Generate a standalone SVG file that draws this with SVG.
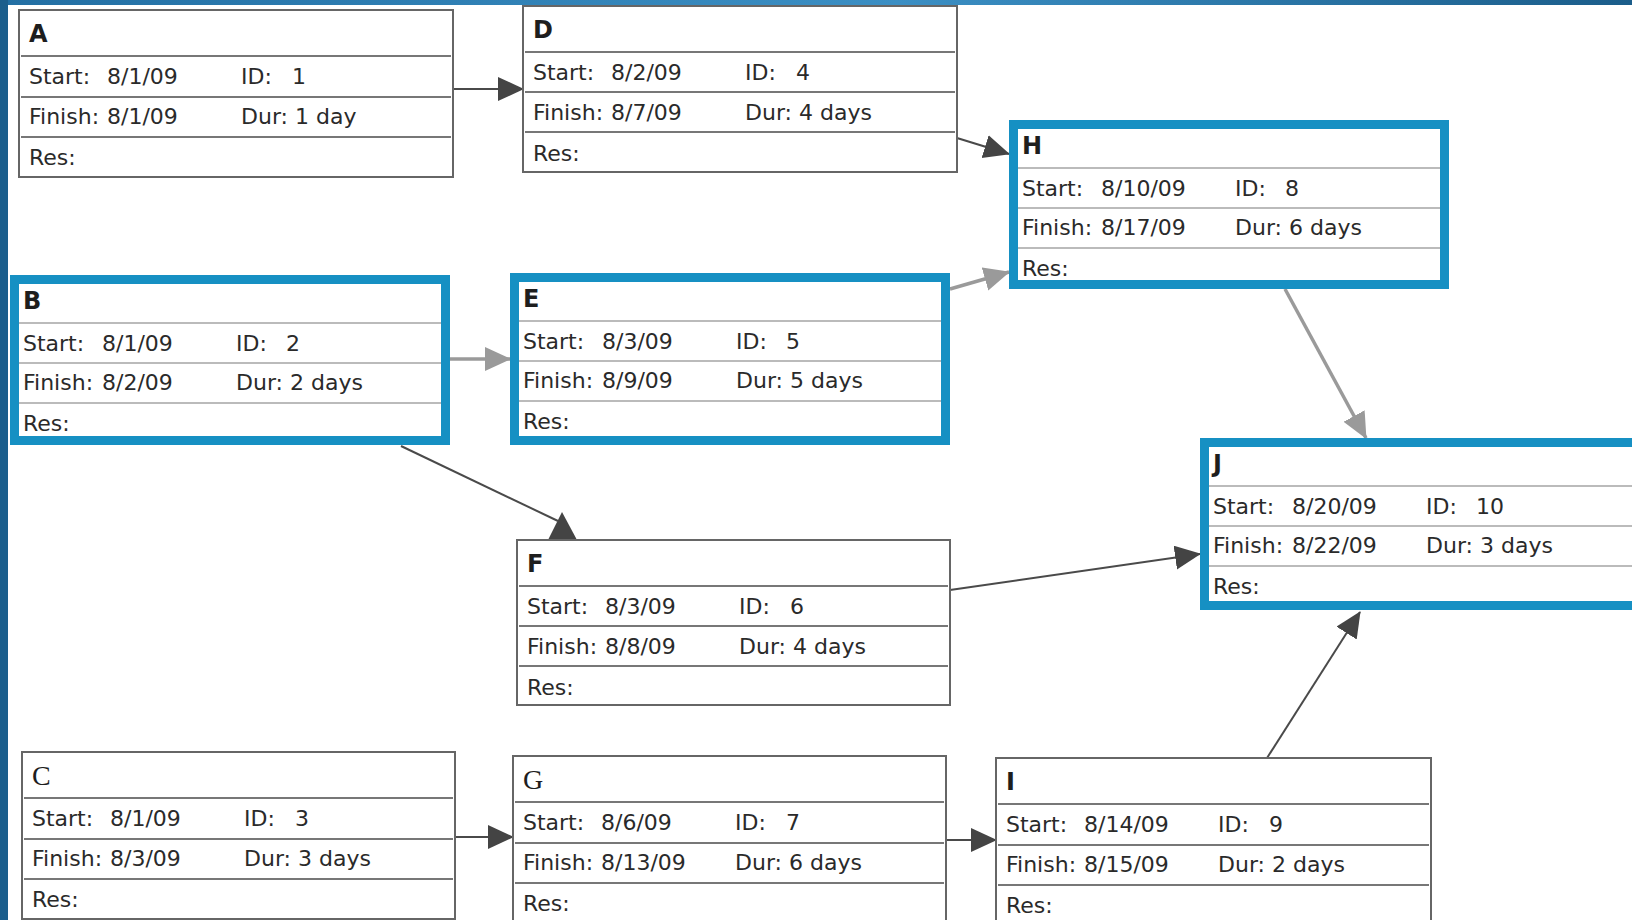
<svg xmlns="http://www.w3.org/2000/svg" width="1632" height="920" viewBox="0 0 1632 920">
<defs>
<linearGradient id="topg" x1="0" y1="0" x2="1" y2="0">
<stop offset="0" stop-color="#236fa3"/>
<stop offset="0.55" stop-color="#3b8fc4"/>
<stop offset="1" stop-color="#1b5d8a"/>
</linearGradient>
<marker id="ad" markerUnits="userSpaceOnUse" markerWidth="26" markerHeight="26" refX="25" refY="12" orient="auto"><path d="M0,0 L26,12 L0,24 z" fill="#444"/></marker>
<marker id="ag" markerUnits="userSpaceOnUse" markerWidth="26" markerHeight="26" refX="25" refY="12" orient="auto"><path d="M0,0 L26,12 L0,24 z" fill="#9a9a9a"/></marker>
<style>
.box{fill:#fff;stroke:#666;stroke-width:2}
.bbox{fill:#fff}
.blue{fill:none;stroke:#1690c3;stroke-width:9}
.div{stroke:#777;stroke-width:2}
.divb{stroke:#bbb;stroke-width:2}
.t{font-family:"DejaVu Sans",sans-serif;font-size:24px;font-weight:bold;fill:#1e1e1e}
.ts{font-family:"Liberation Serif",serif;font-size:28px;fill:#1e1e1e}
.r{font-family:"DejaVu Sans",sans-serif;font-size:22px;fill:#2a2a2a}
.cd{stroke:#4a4a4a;stroke-width:2;fill:none}
.cg{stroke:#9a9a9a;stroke-width:3.5;fill:none}
</style>
</defs>
<rect x="0" y="0" width="1632" height="920" fill="#fff"/>
<rect x="0" y="0" width="1632" height="5" fill="url(#topg)"/>
<rect x="0" y="0" width="8" height="920" fill="#1b5e8c"/>

<g id="connectors">
<line class="cd" x1="453" y1="89" x2="523" y2="89" marker-end="url(#ad)"/>
<line class="cd" x1="957" y1="138" x2="1009" y2="154" marker-end="url(#ad)"/>
<line class="cg" x1="450" y1="359" x2="510" y2="359" marker-end="url(#ag)"/>
<line class="cg" x1="950" y1="289" x2="1009" y2="272" marker-end="url(#ag)"/>
<line class="cg" x1="1285" y1="289" x2="1366" y2="438" marker-end="url(#ag)"/>
<line class="cd" x1="401" y1="446" x2="558" y2="521"/>
<polygon points="562,512 548,540 577,540" fill="#444"/>
<line class="cd" x1="950" y1="590" x2="1200" y2="554" marker-end="url(#ad)"/>
<line class="cd" x1="455" y1="837" x2="513" y2="837" marker-end="url(#ad)"/>
<line class="cd" x1="946" y1="840" x2="996" y2="840" marker-end="url(#ad)"/>
<line class="cd" x1="1267" y1="758" x2="1360" y2="612" marker-end="url(#ad)"/>
</g>

<g id="node-A" transform="translate(19,10)">
<rect class="box" width="434" height="167"/>
<line class="div" x1="2" x2="432" y1="46" y2="46"/><line class="div" x1="2" x2="432" y1="87" y2="87"/><line class="div" x1="2" x2="432" y1="127" y2="127"/>
<text class="t" x="10" y="32">A</text>
<text class="r" x="10" y="74">Start:<tspan x="88">8/1/09</tspan></text>
<text class="r" x="222" y="74">ID:<tspan x="273">1</tspan></text>
<text class="r" x="10" y="114">Finish:<tspan x="88">8/1/09</tspan></text>
<text class="r" x="222" y="114">Dur: 1 day</text>
<text class="r" x="10" y="155">Res:</text>
</g>

<g id="node-D" transform="translate(523,6)">
<rect class="box" width="434" height="166"/>
<line class="div" x1="2" x2="432" y1="46" y2="46"/><line class="div" x1="2" x2="432" y1="86" y2="86"/><line class="div" x1="2" x2="432" y1="126" y2="126"/>
<text class="t" x="10" y="32">D</text>
<text class="r" x="10" y="74">Start:<tspan x="88">8/2/09</tspan></text>
<text class="r" x="222" y="74">ID:<tspan x="273">4</tspan></text>
<text class="r" x="10" y="114">Finish:<tspan x="88">8/7/09</tspan></text>
<text class="r" x="222" y="114">Dur: 4 days</text>
<text class="r" x="10" y="155">Res:</text>
</g>

<g id="node-H" transform="translate(1009,120)">
<rect class="bbox" width="440" height="169"/>
<line class="divb" x1="9" x2="431" y1="48" y2="48"/><line class="divb" x1="9" x2="431" y1="88" y2="88"/><line class="divb" x1="9" x2="431" y1="128" y2="128"/>
<rect class="blue" x="4.5" y="4.5" width="431" height="160"/>
<text class="t" x="13" y="34">H</text>
<text class="r" x="13" y="76">Start:<tspan x="92">8/10/09</tspan></text>
<text class="r" x="226" y="76">ID:<tspan x="276">8</tspan></text>
<text class="r" x="13" y="115">Finish:<tspan x="92">8/17/09</tspan></text>
<text class="r" x="226" y="115">Dur: 6 days</text>
<text class="r" x="13" y="156">Res:</text>
</g>

<g id="node-B" transform="translate(10,275)">
<rect class="bbox" width="440" height="170"/>
<line class="divb" x1="9" x2="431" y1="48" y2="48"/><line class="divb" x1="9" x2="431" y1="88" y2="88"/><line class="divb" x1="9" x2="431" y1="128" y2="128"/>
<rect class="blue" x="4.5" y="4.5" width="431" height="161"/>
<text class="t" x="13" y="34">B</text>
<text class="r" x="13" y="76">Start:<tspan x="92">8/1/09</tspan></text>
<text class="r" x="226" y="76">ID:<tspan x="276">2</tspan></text>
<text class="r" x="13" y="115">Finish:<tspan x="92">8/2/09</tspan></text>
<text class="r" x="226" y="115">Dur: 2 days</text>
<text class="r" x="13" y="156">Res:</text>
</g>

<g id="node-E" transform="translate(510,273)">
<rect class="bbox" width="440" height="172"/>
<line class="divb" x1="9" x2="431" y1="48" y2="48"/><line class="divb" x1="9" x2="431" y1="88" y2="88"/><line class="divb" x1="9" x2="431" y1="128" y2="128"/>
<rect class="blue" x="4.5" y="4.5" width="431" height="163"/>
<text class="t" x="13" y="34">E</text>
<text class="r" x="13" y="76">Start:<tspan x="92">8/3/09</tspan></text>
<text class="r" x="226" y="76">ID:<tspan x="276">5</tspan></text>
<text class="r" x="13" y="115">Finish:<tspan x="92">8/9/09</tspan></text>
<text class="r" x="226" y="115">Dur: 5 days</text>
<text class="r" x="13" y="156">Res:</text>
</g>

<g id="node-J" transform="translate(1200,438)">
<rect class="bbox" width="445" height="172"/>
<line class="divb" x1="9" x2="436" y1="48" y2="48"/><line class="divb" x1="9" x2="436" y1="88" y2="88"/><line class="divb" x1="9" x2="436" y1="128" y2="128"/>
<rect class="blue" x="4.5" y="4.5" width="436" height="163"/>
<text class="t" x="13" y="34">J</text>
<text class="r" x="13" y="76">Start:<tspan x="92">8/20/09</tspan></text>
<text class="r" x="226" y="76">ID:<tspan x="276">10</tspan></text>
<text class="r" x="13" y="115">Finish:<tspan x="92">8/22/09</tspan></text>
<text class="r" x="226" y="115">Dur: 3 days</text>
<text class="r" x="13" y="156">Res:</text>
</g>

<g id="node-F" transform="translate(517,540)">
<rect class="box" width="433" height="165"/>
<line class="div" x1="2" x2="431" y1="46" y2="46"/><line class="div" x1="2" x2="431" y1="86" y2="86"/><line class="div" x1="2" x2="431" y1="126" y2="126"/>
<text class="t" x="10" y="32">F</text>
<text class="r" x="10" y="74">Start:<tspan x="88">8/3/09</tspan></text>
<text class="r" x="222" y="74">ID:<tspan x="273">6</tspan></text>
<text class="r" x="10" y="114">Finish:<tspan x="88">8/8/09</tspan></text>
<text class="r" x="222" y="114">Dur: 4 days</text>
<text class="r" x="10" y="155">Res:</text>
</g>

<g id="node-C" transform="translate(22,752)">
<rect class="box" width="433" height="167"/>
<line class="div" x1="2" x2="431" y1="46" y2="46"/><line class="div" x1="2" x2="431" y1="87" y2="87"/><line class="div" x1="2" x2="431" y1="127" y2="127"/>
<text class="ts" x="10" y="33">C</text>
<text class="r" x="10" y="74">Start:<tspan x="88">8/1/09</tspan></text>
<text class="r" x="222" y="74">ID:<tspan x="273">3</tspan></text>
<text class="r" x="10" y="114">Finish:<tspan x="88">8/3/09</tspan></text>
<text class="r" x="222" y="114">Dur: 3 days</text>
<text class="r" x="10" y="155">Res:</text>
</g>

<g id="node-G" transform="translate(513,756)">
<rect class="box" width="433" height="170"/>
<line class="div" x1="2" x2="431" y1="46" y2="46"/><line class="div" x1="2" x2="431" y1="87" y2="87"/><line class="div" x1="2" x2="431" y1="127" y2="127"/>
<text class="ts" x="10" y="33">G</text>
<text class="r" x="10" y="74">Start:<tspan x="88">8/6/09</tspan></text>
<text class="r" x="222" y="74">ID:<tspan x="273">7</tspan></text>
<text class="r" x="10" y="114">Finish:<tspan x="88">8/13/09</tspan></text>
<text class="r" x="222" y="114">Dur: 6 days</text>
<text class="r" x="10" y="155">Res:</text>
</g>

<g id="node-I" transform="translate(996,758)">
<rect class="box" width="435" height="170"/>
<line class="div" x1="2" x2="433" y1="46" y2="46"/><line class="div" x1="2" x2="433" y1="87" y2="87"/><line class="div" x1="2" x2="433" y1="127" y2="127"/>
<text class="t" x="10" y="32">I</text>
<text class="r" x="10" y="74">Start:<tspan x="88">8/14/09</tspan></text>
<text class="r" x="222" y="74">ID:<tspan x="273">9</tspan></text>
<text class="r" x="10" y="114">Finish:<tspan x="88">8/15/09</tspan></text>
<text class="r" x="222" y="114">Dur: 2 days</text>
<text class="r" x="10" y="155">Res:</text>
</g>
</svg>
